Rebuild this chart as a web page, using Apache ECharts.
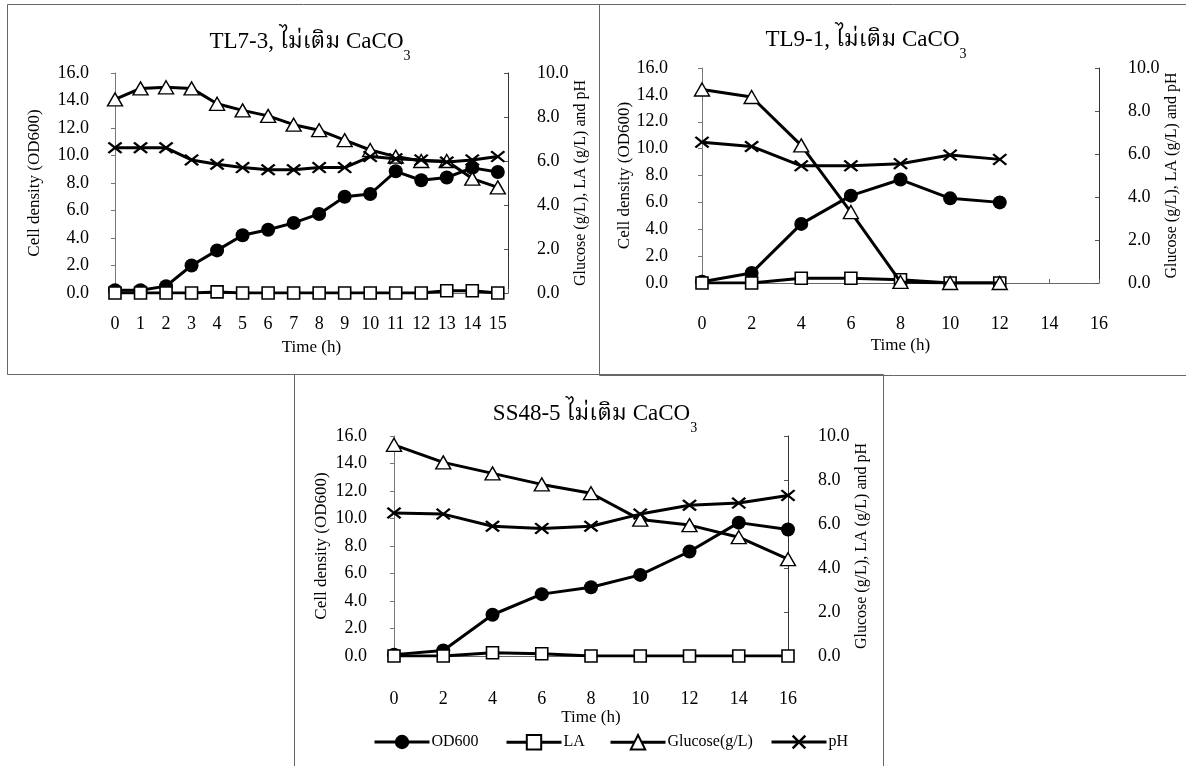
<!DOCTYPE html>
<html><head><meta charset="utf-8">
<script src="https://cdn.jsdelivr.net/npm/echarts@6/dist/echarts.min.js"></script>
<style>html,body{margin:0;padding:0;background:#fff}#c{width:1186px;height:766px}</style>
</head><body><div id="c"></div>
<script>
// ---- data ----
const seriesNames = ['OD600', 'LA', 'Glucose(g/L)', 'pH'];
const titles = ['TL7-3, ไม่เติม CaCO', 'TL9-1, ไม่เติม CaCO', 'SS48-5 ไม่เติม CaCO'];
const leftTicks = [0, 2, 4, 6, 8, 10, 12, 14, 16];
const rightTicks = [0, 2, 4, 6, 8, 10];

const p1Time = [0, 1, 2, 3, 4, 5, 6, 7, 8, 9, 10, 11, 12, 13, 14, 15];
const p1OD = [0.2, 0.2, 0.5, 2.0, 3.1, 4.2, 4.6, 5.1, 5.75, 7.0, 7.2, 8.85, 8.2, 8.4, 9.1, 8.8];
const p1LA = [0, 0, 0, 0, 0.05, 0, 0, 0, 0, 0, 0, 0, 0, 0.1, 0.1, 0];
const p1Glu = [8.8, 9.3, 9.35, 9.3, 8.6, 8.3, 8.05, 7.65, 7.4, 6.95, 6.5, 6.2, 6.0, 6.0, 5.2, 4.8];
const p1PH = [6.6, 6.6, 6.6, 6.05, 5.85, 5.7, 5.6, 5.6, 5.7, 5.7, 6.2, 6.1, 6.05, 5.95, 6.05, 6.2];

const p2Time = [0, 2, 4, 6, 8, 10, 12];
const p2OD = [0.1, 0.75, 4.4, 6.5, 7.7, 6.3, 6.0];
const p2LA = [0, 0, 0.22, 0.22, 0.15, 0, 0];
const p2Glu = [9.0, 8.65, 6.4, 3.3, 0.05, 0, 0];
const p2PH = [6.55, 6.35, 5.45, 5.45, 5.55, 5.95, 5.75];

const p3Time = [0, 2, 4, 6, 8, 10, 12, 14, 16];
const p3OD = [0.1, 0.4, 3.0, 4.5, 5.0, 5.9, 7.6, 9.7, 9.2];
const p3LA = [0, 0, 0.15, 0.1, 0, 0, 0, 0, 0];
const p3Glu = [9.6, 8.8, 8.3, 7.8, 7.4, 6.2, 5.95, 5.4, 4.4];
const p3PH = [6.5, 6.45, 5.9, 5.8, 5.9, 6.45, 6.85, 6.95, 7.3];

// ---- layout ----
const FONT = "'Liberation Serif','Times New Roman','Noto Serif Thai','Noto Sans Thai','Garuda','Loma',serif";
const panels = [
  {time: p1Time, od: p1OD, la: p1LA, glu: p1Glu, ph: p1PH, grid: {left: 115, top: 73, width: 393, height: 220}, xmax: 15.4, xint: 1,
   title: {x: 305, y: 25}, ylm: 26, yrm: 29, ynl: 72, ynr: 61, xlm: 22, xng: 46},
  {time: p2Time, od: p2OD, la: p2LA, glu: p2Glu, ph: p2PH, grid: {left: 702, top: 68, width: 397, height: 215}, xmax: 16, xint: 2,
   title: {x: 861, y: 23}, ylm: 34, yrm: 29, ynl: 69, ynr: 63, xlm: 32, xng: 54},
  {time: p3Time, od: p3OD, la: p3LA, glu: p3Glu, ph: p3PH, grid: {left: 394, top: 436, width: 394, height: 220}, xmax: 16, xint: 2,
   title: {x: 590, y: 397}, ylm: 27, yrm: 30, ynl: 64, ynr: 62, xlm: 34, xng: 49}
];

const txt = {fontFamily: FONT, color: '#000'};
const grids = [], xAxes = [], yAxes = [], series = [], titleArr = [];
const xPath = 'path://M0,1.2L1.2,0L5,3.8L8.8,0L10,1.2L6.2,5L10,8.8L8.8,10L5,6.2L1.2,10L0,8.8L3.8,5Z';

panels.forEach((p, i) => {
  grids.push(p.grid);
  titleArr.push({
    text: '{a|' + titles[i] + '}{b|3}', left: p.title.x, top: p.title.y, textAlign: 'center',
    textStyle: {fontWeight: 'normal', rich: {
      a: {fontFamily: FONT, fontSize: 23, fontWeight: 'normal', color: '#000', lineHeight: 25, verticalAlign: 'top'},
      b: {fontFamily: FONT, fontSize: 14, fontWeight: 'normal', color: '#000', lineHeight: 14, padding: [19, 0, 0, 0], verticalAlign: 'top'}
    }}
  });
  xAxes.push({
    gridIndex: i, type: 'value', min: 0, max: p.xmax, interval: p.xint,
    name: 'Time (h)', nameLocation: 'middle', nameGap: p.xng,
    nameTextStyle: Object.assign({fontSize: 17}, txt),
    axisLine: {show: true, onZero: false, lineStyle: {color: '#666', width: 1}},
    axisTick: {show: true, inside: true, length: 4, lineStyle: {color: '#666'}},
    axisLabel: Object.assign({fontSize: 18, margin: p.xlm, formatter: v => (Math.abs(v - Math.round(v)) < 1e-6 ? String(Math.round(v)) : '')}, txt),
    splitLine: {show: false}
  });
  yAxes.push({
    gridIndex: i, type: 'value', position: 'left', min: 0, max: 16, interval: 2,
    name: 'Cell density (OD600)', nameLocation: 'middle', nameGap: p.ynl, nameRotate: 90,
    nameTextStyle: Object.assign({fontSize: 17}, txt),
    axisLine: {show: true, lineStyle: {color: '#777', width: 1}},
    axisTick: {show: true, inside: false, length: 4, lineStyle: {color: '#777'}},
    axisLabel: Object.assign({fontSize: 18, margin: p.ylm, formatter: v => v.toFixed(1)}, txt),
    splitLine: {show: false}
  });
  yAxes.push({
    gridIndex: i, type: 'value', position: 'right', min: 0, max: 10, interval: 2,
    name: 'Glucose (g/L), LA (g/L) and pH', nameLocation: 'middle', nameGap: p.ynr, nameRotate: 90,
    nameTextStyle: Object.assign({fontSize: 16}, txt),
    axisLine: {show: true, lineStyle: {color: '#333', width: 1}},
    axisTick: {show: true, inside: true, length: 4, lineStyle: {color: '#555'}},
    axisLabel: Object.assign({fontSize: 18, margin: p.yrm, formatter: v => v.toFixed(1)}, txt),
    splitLine: {show: false}
  });
  const pair = arr => p.time.map((t, k) => [t, arr[k]]);
  const base = {type: 'line', xAxisIndex: i, showAllSymbol: true, lineStyle: {color: '#000', width: 3}, emphasis: {disabled: true}, animation: false};
  series.push(Object.assign({}, base, {name: seriesNames[0], yAxisIndex: 2 * i, data: pair(p.od), symbol: 'circle', symbolSize: 14,
    itemStyle: {color: '#000', borderColor: '#000', borderWidth: 0}, z: 3}));
  series.push(Object.assign({}, base, {name: seriesNames[1], yAxisIndex: 2 * i + 1, data: pair(p.la), symbol: 'rect', symbolSize: 12,
    itemStyle: {color: '#fff', borderColor: '#000', borderWidth: 1.6}, z: 4}));
  series.push(Object.assign({}, base, {name: seriesNames[2], yAxisIndex: 2 * i + 1, data: pair(p.glu), symbol: 'triangle', symbolSize: [15, 13],
    itemStyle: {color: '#fff', borderColor: '#000', borderWidth: 1.4}, z: 5}));
  series.push(Object.assign({}, base, {name: seriesNames[3], yAxisIndex: 2 * i + 1, data: pair(p.ph), symbol: xPath, symbolSize: [15, 12],
    itemStyle: {color: '#000', borderColor: '#000', borderWidth: 0}, z: 6}));
});

const legendPos = [368, 500, 604, 765];
const legends = seriesNames.map((n, k) => ({
  data: [n], left: legendPos[k], top: 729, itemWidth: 55, itemHeight: 18, itemGap: 0,
  lineStyle: {width: 3, color: '#000'},
  selectedMode: false, textStyle: Object.assign({fontSize: 16, padding: [0, 0, 0, -3]}, txt)
}));

const option = {
  backgroundColor: '#fff',
  animation: false,
  title: titleArr,
  grid: grids,
  xAxis: xAxes,
  yAxis: yAxes,
  legend: legends,
  series: series,
  graphic: [
    {type: 'rect', shape: {x: 7.5, y: 4.5, width: 592, height: 370}, style: {fill: 'none', stroke: '#666', lineWidth: 1}, silent: true},
    {type: 'rect', shape: {x: 599.5, y: 4.5, width: 600, height: 371}, style: {fill: 'none', stroke: '#666', lineWidth: 1}, silent: true},
    {type: 'rect', shape: {x: 294.5, y: 374.5, width: 589, height: 400}, style: {fill: 'none', stroke: '#666', lineWidth: 1}, silent: true}
  ]
};
echarts.init(document.getElementById('c')).setOption(option);
</script></body></html>
